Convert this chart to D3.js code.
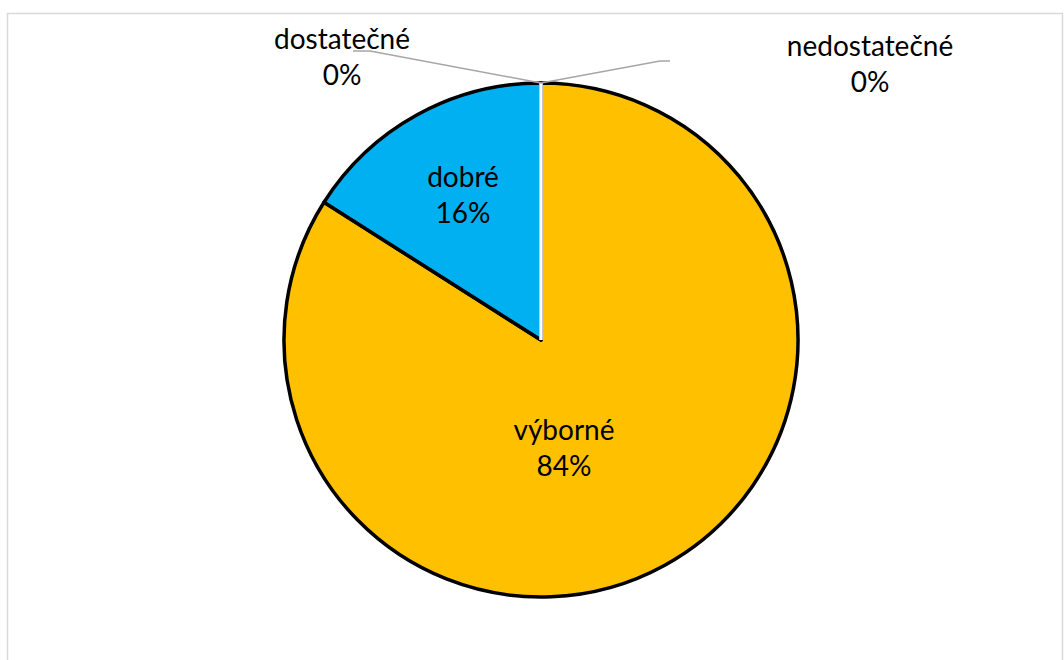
<!DOCTYPE html>
<html lang="cs">
<head>
    <meta charset="utf-8">
    <title>pie</title>
    <script src="https://cdn.jsdelivr.net/npm/d3@7/dist/d3.min.js"></script>
</head>
<style>
body { margin: 0; background: #fff; }
text { font-family: Lato, "Open Sans", sans-serif; font-size: 28px; fill: #000; }
</style>
<body>
<script type="text/javascript">
    // data
    var categories = ["výborné", "dobré", "dostatečné", "nedostatečné"];
    var values = [84, 16, 0, 0];
    var colors = ["#FFC000", "#00B0F0", "#5B9BD5", "#A5A5A5"];

    var width = 1064, height = 660;
    var cx = 541, cy = 340, r = 257;

    var svg = d3.select("body")
            .append("svg")
            .attr("width", width)
            .attr("height", height);

    // chart frame
    svg.append("rect")
            .attr("x", 7.5).attr("y", 13.5)
            .attr("width", 1055).attr("height", 700)
            .attr("fill", "none")
            .attr("stroke", "#d9d9d9")
            .attr("stroke-width", 1.5);

    var pie = d3.pie().sort(null).value(function(d) { return d; });
    var arcs = pie(values);
    var arc = d3.arc().innerRadius(0).outerRadius(r);

    var g = svg.append("g").attr("transform", "translate(" + cx + "," + cy + ")");

    g.selectAll("path.slice")
            .data(arcs.filter(function(d) { return d.value > 0; }))
            .enter()
            .append("path")
            .attr("class", "slice")
            .attr("d", arc)
            .attr("fill", function(d) { return colors[d.index]; })
            .attr("stroke", "#000")
            .attr("stroke-width", 3.5)
            .attr("stroke-linejoin", "round");

    // zero slices: just a white edge
    g.selectAll("line.zero")
            .data(arcs.filter(function(d) { return d.value === 0; }))
            .enter()
            .append("line")
            .attr("x1", 0).attr("y1", 0)
            .attr("x2", function(d) { return r * Math.sin(d.startAngle); })
            .attr("y2", function(d) { return -r * Math.cos(d.startAngle); })
            .attr("stroke", "#fff")
            .attr("stroke-width", 3);

    // label baselines (first line)
    var labelPos = {
        "výborné": [564, 440],
        "dobré": [463, 187],
        "dostatečné": [342, 49],
        "nedostatečné": [870, 56]
    };

    // leader lines for outside labels
    var leaders = {
        "dostatečné": [[353, 51], [370, 51]],
        "nedostatečné": [[670, 61], [660, 61]]
    };
    arcs.forEach(function(d) {
        var name = categories[d.index];
        if (!leaders[name]) return;
        var tip = [cx + r * Math.sin(d.startAngle), cy - r * Math.cos(d.startAngle)];
        svg.append("path")
                .attr("d", d3.line()([leaders[name][0], leaders[name][1], tip]))
                .attr("fill", "none")
                .attr("stroke", "#a6a6a6")
                .attr("stroke-width", 1.5);
    });

    arcs.forEach(function(d) {
        var name = categories[d.index];
        var p = labelPos[name];
        var t = svg.append("text")
                .attr("x", p[0]).attr("y", p[1])
                .attr("text-anchor", "middle");
        t.append("tspan").attr("x", p[0]).attr("dy", 0).text(name);
        t.append("tspan").attr("x", p[0]).attr("dy", 36).text(d3.format(".0%")(d.value / d3.sum(values)));
    });
</script>
</body>
</html>
